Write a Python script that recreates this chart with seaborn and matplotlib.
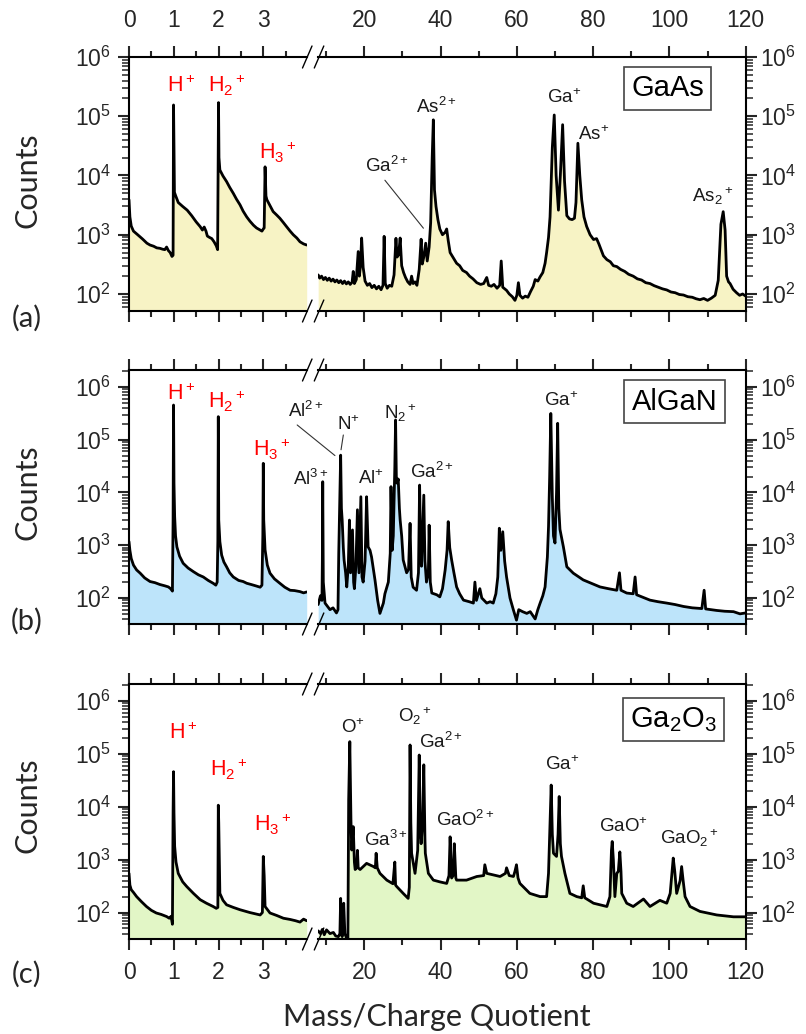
import matplotlib
matplotlib.use('Agg')
import matplotlib.pyplot as plt
import matplotlib.ticker as mticker
from matplotlib.lines import Line2D
import seaborn as sns
import pandas as pd

sns.set_theme(style='ticks')
plt.rcParams['font.family'] = ['Liberation Sans', 'DejaVu Sans']
plt.rcParams['mathtext.fontset'] = 'custom'
plt.rcParams['mathtext.rm'] = 'Liberation Sans'
plt.rcParams['mathtext.it'] = 'Liberation Sans:italic'
plt.rcParams['mathtext.bf'] = 'Liberation Sans:bold'

# ---------------- spectra: (mass/charge, counts) ----------------
# (a) GaAs
gaas_low = [
    (0.0, 3900), (0.02, 2000), (0.05, 1400), (0.1, 1150), (0.2, 990), (0.3, 850), (0.4, 720),
    (0.47, 670), (0.55, 640), (0.62, 600), (0.69, 590), (0.75, 570), (0.8, 560), (0.84, 620),
    (0.88, 540), (0.92, 500), (0.96, 430), (0.985, 450), (0.995, 155000), (1.005, 30000),
    (1.015, 5200), (1.04, 4600), (1.1, 3500), (1.2, 3000), (1.3, 2600), (1.4, 2100), (1.5, 1650),
    (1.59, 1370), (1.64, 1200), (1.68, 1350), (1.72, 1150), (1.75, 950), (1.8, 900), (1.85, 860),
    (1.9, 760), (1.95, 650), (1.98, 560), (2.0, 170000), (2.01, 20000), (2.03, 12400), (2.1, 9800),
    (2.18, 7900), (2.25, 6300), (2.33, 5000), (2.4, 4000), (2.48, 3200), (2.55, 2500), (2.63, 2000),
    (2.7, 1700), (2.78, 1450), (2.85, 1300), (2.93, 1200), (2.97, 1150), (3.0, 1250), (3.02, 1300),
    (3.04, 14000), (3.06, 4500), (3.08, 3900), (3.15, 3100), (3.22, 2460), (3.3, 2150), (3.37, 1900),
    (3.45, 1600), (3.52, 1370), (3.6, 1150), (3.67, 1000), (3.75, 880), (3.82, 760), (3.9, 700),
    (3.97, 670),
]
gaas_high = [
    (7.9, 210), (8.3, 185), (8.8, 200), (9.3, 175), (9.8, 190), (10.3, 170), (10.8, 185), (11.3, 165),
    (11.8, 178), (12.3, 160), (12.8, 172), (13.3, 155), (13.8, 168), (14.3, 150), (14.8, 165),
    (15.3, 148), (15.8, 160), (16.3, 145), (16.8, 158), (17.1, 240), (17.4, 150), (17.9, 175),
    (18.4, 520), (18.7, 200), (19.0, 300), (19.3, 880), (19.7, 280), (20.2, 165), (20.8, 140),
    (21.4, 150), (22.0, 128), (22.6, 140), (23.2, 122), (23.8, 135), (24.4, 118), (24.9, 140),
    (25.2, 940), (25.5, 150), (26.0, 125), (26.6, 140), (27.2, 135), (27.8, 210), (28.3, 870),
    (28.6, 420), (29.0, 460), (29.4, 880), (29.8, 300), (30.3, 230), (30.8, 190), (31.4, 160),
    (32.0, 145), (32.4, 200), (32.8, 150), (33.3, 160), (33.8, 140), (34.4, 260), (34.9, 840),
    (35.2, 320), (35.6, 420), (36.1, 720), (36.5, 360), (37.0, 620), (37.4, 1600), (37.8, 20000),
    (38.1, 87000), (38.4, 5700), (38.8, 3000), (39.3, 1800), (39.8, 1250), (40.5, 1000),
    (41.2, 1100), (41.6, 1250), (42.0, 800), (42.5, 500), (43.3, 410), (44.2, 330), (45.0, 300),
    (45.8, 250), (46.8, 230), (47.6, 200), (48.5, 180), (49.5, 155), (50.5, 145), (51.3, 150),
    (52.1, 190), (52.6, 140), (53.3, 135), (54.0, 145), (54.8, 125), (55.5, 140), (55.9, 360),
    (56.3, 130), (57.3, 115), (58.0, 100), (58.8, 90), (59.5, 78), (60.0, 95), (60.4, 155),
    (60.8, 95), (61.5, 85), (62.2, 92), (62.9, 88), (63.6, 110), (64.3, 135), (64.8, 175),
    (65.5, 165), (66.1, 195), (66.8, 230), (67.4, 330), (67.8, 500), (68.3, 900), (68.7, 2000),
    (69.3, 30000), (69.8, 105000), (70.3, 10000), (70.9, 2600), (71.4, 10000), (72.0, 72000),
    (72.5, 8000), (73.1, 2100), (73.8, 1850), (74.5, 1800), (75.1, 1900), (75.5, 3500),
    (76.0, 35000), (76.5, 10000), (77.0, 3900), (77.6, 2000), (78.3, 1380), (79.2, 1000),
    (80.1, 830), (80.9, 860), (81.5, 700), (82.7, 440), (83.6, 380), (84.5, 350), (85.3, 300),
    (86.2, 290), (87.2, 260), (88.3, 240), (89.3, 215), (90.5, 200), (91.6, 180), (92.7, 172),
    (93.8, 155), (94.9, 150), (96.0, 138), (97.1, 130), (98.2, 122), (99.3, 117), (100.4, 108),
    (101.5, 105), (102.6, 98), (103.7, 96), (104.8, 90), (106.0, 88), (107.0, 83), (108.0, 80),
    (109.0, 84), (110.0, 78), (111.0, 85), (112.0, 95), (112.8, 170), (113.5, 1500), (114.1, 2450),
    (114.6, 1200), (115.0, 200), (115.5, 160), (115.9, 150), (116.7, 120), (117.6, 105),
    (118.4, 95), (119.2, 100), (120.0, 92),
]

# (b) AlGaN
algan_low = [
    (0.0, 1170), (0.02, 800), (0.05, 560), (0.1, 420), (0.17, 340), (0.25, 295), (0.35, 240),
    (0.47, 205), (0.58, 195), (0.69, 180), (0.8, 170), (0.88, 162), (0.93, 150), (0.97, 135),
    (0.985, 3000), (0.995, 455000), (1.005, 15000), (1.02, 3500), (1.04, 1500), (1.07, 930),
    (1.13, 620), (1.21, 455), (1.32, 370), (1.44, 315), (1.55, 275), (1.66, 250), (1.77, 215),
    (1.88, 190), (1.94, 175), (1.97, 200), (1.985, 1200), (1.995, 274000), (2.005, 3000),
    (2.03, 1170), (2.07, 650), (2.12, 480), (2.18, 390), (2.25, 300), (2.33, 250), (2.45, 215),
    (2.55, 205), (2.63, 190), (2.73, 180), (2.83, 170), (2.93, 160), (2.97, 175), (2.99, 1500),
    (3.0, 35700), (3.01, 3000), (3.04, 820), (3.09, 420), (3.15, 295), (3.25, 230), (3.37, 190),
    (3.48, 160), (3.6, 140), (3.7, 138), (3.82, 132), (3.9, 125), (3.97, 130),
]
algan_high = [
    (7.9, 75), (8.5, 110), (8.9, 90), (9.0, 500), (9.1, 16000), (9.25, 200), (9.7, 80), (10.3, 70),
    (11.0, 60), (11.8, 65), (12.7, 52), (13.1, 60), (13.3, 700), (13.6, 8000), (13.8, 51000),
    (14.0, 5000), (14.2, 3000), (14.5, 900), (14.7, 525), (15.1, 300), (15.4, 162), (15.8, 400),
    (16.1, 3000), (16.4, 300), (16.9, 1950), (17.2, 200), (17.4, 150), (17.8, 400), (18.2, 4700),
    (18.6, 300), (19.1, 8300), (19.4, 250), (19.7, 200), (20.2, 500), (20.6, 8300), (21.0, 930),
    (21.5, 800), (21.9, 600), (22.8, 220), (23.5, 90), (24.1, 51), (25.0, 80), (25.4, 120),
    (26.3, 200), (26.8, 700), (27.0, 12900), (27.3, 800), (27.6, 1500), (28.0, 30000),
    (28.2, 237000), (28.4, 20000), (28.6, 15000), (28.9, 18000), (29.2, 5000), (29.4, 3000),
    (29.8, 1500), (30.2, 525), (31.1, 300), (31.6, 350), (32.0, 2600), (32.3, 250), (32.8, 160),
    (33.7, 140), (34.2, 300), (34.5, 13800), (34.8, 600), (35.0, 400), (35.6, 8900), (35.9, 500),
    (36.3, 200), (36.8, 300), (37.0, 2400), (37.3, 200), (37.7, 124), (39.0, 115), (39.8, 105),
    (40.5, 150), (41.2, 340), (41.7, 800), (42.0, 2800), (42.4, 900), (42.9, 525), (43.5, 300),
    (44.2, 162), (45.0, 120), (46.0, 91), (47.5, 85), (48.6, 80), (49.0, 200), (49.4, 90),
    (50.3, 150), (50.8, 100), (52.1, 80), (53.0, 85), (53.8, 80), (54.5, 120), (55.0, 250),
    (55.4, 2100), (55.8, 800), (56.3, 1800), (56.8, 500), (57.3, 250), (58.2, 100), (59.1, 59),
    (59.9, 38), (60.5, 60), (61.5, 55), (62.6, 51), (63.5, 55), (64.8, 40), (65.5, 60), (66.1, 80),
    (66.8, 110), (67.4, 162), (68.0, 600), (68.3, 2250), (68.6, 20000), (68.9, 315000),
    (69.3, 8000), (69.6, 1500), (70.0, 1100), (70.4, 10000), (70.7, 205000), (71.0, 5000),
    (71.3, 2000), (72.2, 930), (73.1, 390), (74.8, 295), (77.4, 220), (79.5, 190), (81.8, 162),
    (84.0, 150), (86.2, 140), (86.9, 300), (87.3, 140), (88.8, 124), (90.5, 120), (91.0, 250),
    (91.4, 115), (94.9, 91), (97.0, 85), (99.3, 80), (101.5, 75), (103.7, 69), (106.0, 65),
    (108.5, 63), (109.1, 140), (109.5, 62), (112.4, 58), (114.5, 56), (116.8, 55), (118.5, 50),
    (120.0, 52),
]

# (c) Ga2O3
ga2o3_low = [
    (0.0, 550), (0.02, 330), (0.05, 270), (0.1, 240), (0.17, 200), (0.28, 160), (0.39, 130),
    (0.5, 110), (0.61, 98), (0.72, 92), (0.84, 84), (0.9, 78), (0.94, 85), (0.97, 60),
    (0.985, 7600), (0.995, 46000), (1.005, 7600), (1.02, 1790), (1.05, 900), (1.1, 550),
    (1.2, 380), (1.29, 310), (1.44, 230), (1.59, 175), (1.73, 150), (1.88, 130), (1.95, 120),
    (1.985, 125), (1.995, 10700), (2.005, 5000), (2.03, 230), (2.1, 170), (2.18, 140), (2.33, 125),
    (2.48, 113), (2.7, 100), (2.93, 90), (2.98, 100), (3.0, 1150), (3.02, 500), (3.04, 130),
    (3.15, 98), (3.3, 88), (3.45, 78), (3.6, 74), (3.72, 70), (3.82, 66), (3.9, 75), (3.97, 70),
]
ga2o3_high = [
    (7.9, 45), (8.5, 40), (9.0, 48), (9.5, 38), (10.1, 47), (11.0, 40), (11.9, 42), (12.5, 36),
    (13.2, 35), (13.6, 40), (13.8, 185), (14.0, 40), (14.2, 35), (14.6, 150), (14.9, 40),
    (15.4, 32), (15.7, 33), (15.9, 13400), (16.2, 170000), (16.5, 5600), (16.7, 1520), (17.1, 4200),
    (17.4, 900), (17.6, 650), (18.0, 700), (18.2, 1500), (18.4, 700), (18.9, 650), (20.6, 850),
    (22.4, 740), (22.9, 700), (23.1, 1320), (23.4, 700), (24.1, 550), (25.9, 410), (27.5, 350),
    (28.0, 900), (28.2, 330), (28.5, 310), (30.2, 230), (31.5, 185), (31.8, 300), (32.0, 147000),
    (32.2, 5000), (32.4, 1320), (33.3, 550), (34.0, 1500), (34.4, 95000), (34.7, 3000),
    (34.9, 2000), (35.3, 5000), (35.6, 62000), (35.9, 2500), (36.0, 1320), (36.8, 550),
    (38.1, 410), (39.8, 380), (41.6, 355), (42.2, 500), (42.5, 2700), (42.9, 450), (43.3, 500),
    (43.6, 2000), (44.0, 450), (44.2, 410), (46.8, 410), (49.5, 480), (51.3, 500), (51.6, 800),
    (52.1, 550), (55.6, 480), (57.0, 550), (57.3, 700), (58.0, 500), (59.1, 480), (59.5, 600),
    (59.9, 800), (60.3, 450), (60.8, 355), (63.4, 230), (66.1, 200), (67.8, 200), (68.3, 550),
    (68.7, 5000), (69.0, 25700), (69.3, 3000), (69.6, 1320), (70.4, 1150), (70.8, 3000),
    (71.1, 15600), (71.4, 2000), (71.7, 1150), (72.6, 550), (73.9, 230), (75.7, 200), (77.0, 190),
    (77.4, 320), (77.8, 190), (80.1, 150), (83.6, 130), (84.4, 200), (84.8, 1500), (85.0, 2200),
    (85.3, 1000), (85.7, 200), (86.2, 550), (86.6, 600), (87.0, 1400), (87.3, 600), (87.5, 230),
    (88.8, 150), (90.5, 130), (93.2, 180), (94.9, 130), (97.5, 170), (99.3, 150), (100.2, 230),
    (100.7, 600), (101.0, 1070), (101.4, 600), (101.9, 230), (102.8, 400), (103.2, 740),
    (103.6, 400), (104.1, 200), (105.4, 130), (108.0, 105), (112.4, 90), (116.8, 83), (120.0, 83),
]

# peak labels: (text, m/z, log10 counts)
h_labels_a = [(r'H$^+$', 0.86, 5.41), (r'H$_2{}^+$', 1.77, 5.41), (r'H$_3{}^+$', 2.91, 4.27)]
h_labels_b = [(r'H$^+$', 0.86, 5.75), (r'H$_2{}^+$', 1.76, 5.60), (r'H$_3{}^+$', 2.76, 4.68)]
h_labels_c = [(r'H$^+$', 0.89, 5.28), (r'H$_2{}^+$', 1.82, 4.57), (r'H$_3{}^+$', 2.79, 3.53)]

ion_labels_a = [('As$^{2+}$', 33.5, 5.05), ('Ga$^{2+}$', 20.3, 4.06), ('Ga$^{+}$', 67.8, 5.22),
                ('As$^{+}$', 76.1, 4.60), (r'As$_2{}^+$', 105.8, 3.56)]
ion_labels_b = [('Al$^{2+}$', 0.07, 5.44), ('N$^{+}$', 12.8, 5.18), ('Al$^{3+}$', 1.2, 4.14),
                ('Al$^{+}$', 18.4, 4.16), (r'N$_2{}^+$', 25.2, 5.39), ('Ga$^{2+}$', 32.0, 4.28),
                ('Ga$^{+}$', 67.2, 5.64)]
ion_labels_c = [('O$^{+}$', 13.8, 5.40), (r'O$_2{}^+$', 28.9, 5.61), ('Ga$^{2+}$', 34.4, 5.11),
                ('Ga$^{3+}$', 19.9, 3.26), ('GaO$^{2+}$', 38.8, 3.64), ('Ga$^{+}$', 67.4, 4.70),
                ('GaO$^{+}$', 81.5, 3.53), (r'GaO$_2{}^+$', 97.4, 3.30)]

leaders_a = [((25.4, 35.5), (3.92, 3.11))]
leaders_b = [((2.4, 12.3), (5.28, 4.70)), ((14.5, 13.9), (5.09, 4.81))]
leaders_c = []

panels = [
    dict(low=gaas_low, high=gaas_high, fill='#F7F3C5', ylim=(51.6, 1.0e6), top=57, bot=311,
         name='GaAs', name_pos=(99.5, 5.47), h=h_labels_a, ions=ion_labels_a, leaders=leaders_a,
         tag='(a)', tag_y=318, counts_y=180),
    dict(low=algan_low, high=algan_high, fill='#BDE4FA', ylim=(32.1, 2.1e6), top=370, bot=624,
         name='AlGaN', name_pos=(101.3, 5.72), h=h_labels_b, ions=ion_labels_b, leaders=leaders_b,
         tag='(b)', tag_y=621, counts_y=492),
    dict(low=ga2o3_low, high=ga2o3_high, fill='#E2F6C6', ylim=(31.6, 2.09e6), top=684, bot=939,
         name='Ga$_2$O$_3$', name_pos=(101.0, 5.65), h=h_labels_c, ions=ion_labels_c,
         leaders=leaders_c, tag='(c)', tag_y=974, counts_y=805),
]

W, H = 806, 1034
fig = plt.figure(figsize=(W / 100, H / 100), dpi=100)


def fxp(px):
    return px / W


def fyp(py):
    return 1 - py / H


def style_axis(ax, side, first, last):
    ax.set_yscale('log')
    ax.yaxis.set_major_locator(mticker.LogLocator(base=10, numticks=20))
    ax.yaxis.set_minor_locator(mticker.LogLocator(base=10, subs=range(2, 10), numticks=50))
    ax.yaxis.set_minor_formatter(mticker.NullFormatter())
    for s in ax.spines.values():
        s.set_linewidth(1.5)
        s.set_color('black')
    if side == 'left':
        ax.spines['right'].set_visible(False)
        ax.tick_params(axis='y', which='both', left=True, right=False, labelleft=True,
                       labelright=False)
        ypad = 5
    else:
        ax.spines['left'].set_visible(False)
        ax.tick_params(axis='y', which='both', left=False, right=True, labelleft=False,
                       labelright=True)
        ypad = 2
    ax.tick_params(axis='y', which='major', direction='out', length=8, width=1.5, labelsize=16.5,
                   pad=ypad)
    ax.tick_params(axis='y', which='minor', direction='out', length=5, width=1.1)
    ax.tick_params(axis='x', which='both', direction='out', top=True, bottom=True,
                   labeltop=first, labelbottom=last)
    ax.tick_params(axis='x', which='major', length=8, width=1.5, labelsize=16.5, pad=8)
    ax.tick_params(axis='x', which='minor', length=4.5, width=1.5)
    if first:
        ax.tick_params(axis='x', which='major', pad=10)
    ax.set_xlabel('')
    ax.set_ylabel('')
    ax.grid(False)


for i, p in enumerate(panels):
    first, last = i == 0, i == 2
    hgt = (p['bot'] - p['top']) / H
    ax_l = fig.add_axes([fxp(129), fyp(p['bot']), (306.7 - 129) / W, hgt])
    ax_r = fig.add_axes([fxp(318), fyp(p['bot']), (745.7 - 318) / W, hgt])

    for ax, seg in ((ax_l, p['low']), (ax_r, p['high'])):
        df = pd.DataFrame(seg, columns=['mz', 'counts'])
        ax.set_yscale('log')
        ax.fill_between(df['mz'], df['counts'], 1, color=p['fill'], lw=0, zorder=1)
        sns.lineplot(data=df, x='mz', y='counts', ax=ax, color='black', linewidth=2.0,
                     estimator=None, sort=False, zorder=2)
        ax.set_ylim(*p['ylim'])

    ax_l.set_xlim(0, 3.97)
    ax_r.set_xlim(7.86, 120)
    ax_l.set_xticks([0, 1, 2, 3])
    ax_l.set_xticks([0.5, 1.5, 2.5, 3.5], minor=True)
    ax_r.set_xticks([20, 40, 60, 80, 100, 120])
    ax_r.set_xticks([10, 30, 50, 70, 90, 110], minor=True)
    style_axis(ax_l, 'left', first, last)
    style_axis(ax_r, 'right', first, last)

    for txt, x, ly in p['h']:
        ax_l.text(x, 10 ** ly, txt, color='#FF0000', fontsize=15.5, ha='left', va='baseline')
    for txt, x, ly in p['ions']:
        ax_r.text(x, 10 ** ly, txt, color='#1A1A1A', fontsize=13.5, ha='left', va='baseline',
                  clip_on=False)
    for xs, lys in p['leaders']:
        ax_r.plot(xs, [10 ** v for v in lys], color='#333333', lw=0.8, clip_on=False)
    nx, ny = p['name_pos']
    ax_r.text(nx, 10 ** ny, p['name'], fontsize=21, ha='center', va='center', color='black',
              bbox=dict(boxstyle='square,pad=0.25', fc='white', ec='#444444', lw=1.2))

    # axis break marks
    for py in (p['top'], p['bot']):
        for x0 in (302.5, 314.3):
            fig.add_artist(Line2D([fxp(x0), fxp(x0 + 9.5)], [fyp(py + 11), fyp(py - 11)],
                                  transform=fig.transFigure, color='black', lw=1.0))

    fig.text(fxp(28), fyp(p['counts_y']), 'Counts', rotation=90, ha='center', va='center',
             fontsize=22, family=['Lato', 'DejaVu Sans'])
    fig.text(fxp(27), fyp(p['tag_y']), p['tag'], ha='center', va='center', fontsize=21,
             family=['Lato', 'DejaVu Sans'])

fig.text(fxp(437), fyp(1026), 'Mass/Charge Quotient', ha='center', va='baseline', fontsize=22,
         family=['Lato', 'DejaVu Sans'])

fig.savefig('out.png', dpi=100)
